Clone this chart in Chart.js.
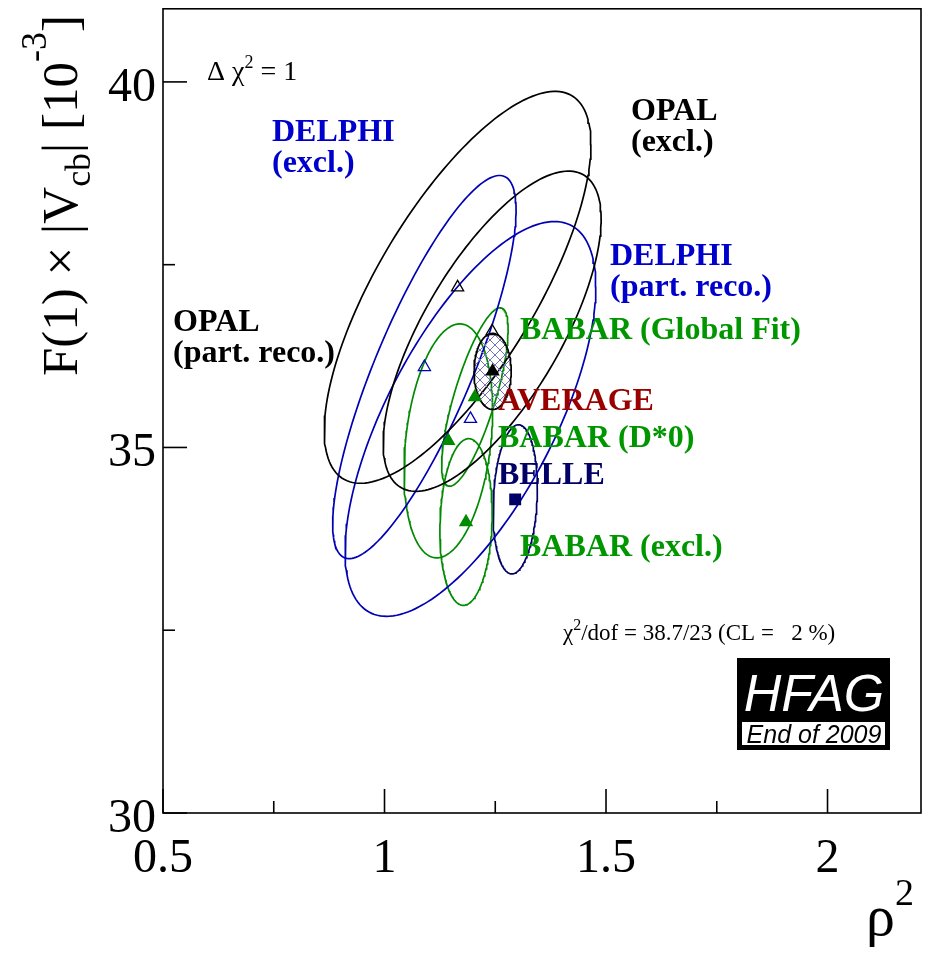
<!DOCTYPE html>
<html>
<head>
<meta charset="utf-8">
<script src="https://cdn.jsdelivr.net/npm/chart.js@4.4.1/dist/chart.umd.min.js"></script>
<style>
html, body { margin: 0; padding: 0; background: #fff; }
#wrap { width: 937px; height: 955px; position: relative; }
</style>
</head>
<body>
<div id="wrap"><canvas id="vcbChart"></canvas></div>
<script>
// Measurements, Delta chi2 = 1 contours in the (rho^2, F(1)|Vcb|) plane
const names = ['OPAL (excl.)', 'OPAL (part. reco.)', 'DELPHI (excl.)', 'DELPHI (part. reco.)',
               'BABAR (Global Fit)', 'BABAR (D*0)', 'BABAR (excl.)', 'BELLE', 'AVERAGE'];
const rho2     = [1.165, 1.243, 1.090, 1.194, 1.204, 1.144, 1.184, 1.295, 1.244];
const f1vcb    = [37.19, 36.59, 36.10, 35.39, 35.69, 35.09, 33.98, 34.29, 36.04];
const errRho2  = [0.301, 0.246, 0.207, 0.283, 0.075, 0.100, 0.059, 0.050, 0.042];
const errF1vcb = [2.68, 2.19, 2.62, 2.70, 1.22, 1.60, 1.14, 1.02, 0.52];
const corr     = [0.73, 0.70, 0.82, 0.67, 0.76, 0.26, 0.10, 0.15, 0.0];

// Axis ticks
const xTicks = [0.5, 0.75, 1, 1.25, 1.5, 1.75, 2];
const xTickLabels = ['0.5', '', '1', '', '1.5', '', '2'];
const yTicks = [30, 32.5, 35, 37.5, 40];
const yTickLabels = ['30', '', '35', '', '40'];

// Styles (one per measurement)
const lineColors = ['#000000', '#000000', '#0000b4', '#0000b4', '#008a00', '#008a00', '#008a00', '#000066', '#000000'];
const markerStyle = ['triangle', 'triangle', 'triangle', 'triangle', 'triangle', 'triangle', 'triangle', 'rect', 'triangle'];
const markerFilled = [false, false, false, false, true, true, true, true, true];

// Delta chi2 = 1 contour from central values, errors and correlation
function contour(i) {
    const pts = [];
    const n = 180;
    const r = corr[i];
    for (let k = 0; k <= n; k++) {
        const t = 2 * Math.PI * k / n;
        pts.push({
            x: rho2[i] + errRho2[i] * Math.cos(t),
            y: f1vcb[i] + errF1vcb[i] * (r * Math.cos(t) + Math.sqrt(1 - r * r) * Math.sin(t))
        });
    }
    return pts;
}

function hatchPattern() {
    const c = document.createElement('canvas');
    c.width = 10; c.height = 10;
    const g = c.getContext('2d');
    g.strokeStyle = '#7474b0';
    g.lineWidth = 1;
    g.beginPath();
    g.moveTo(0, 0); g.lineTo(10, 10);
    g.moveTo(10, 0); g.lineTo(0, 10);
    g.stroke();
    return g.createPattern(c, 'repeat');
}

const datasets = [];
names.forEach((name, i) => {
    const isAvg = name === 'AVERAGE';
    datasets.push({
        label: name,
        data: contour(i),
        showLine: true,
        borderColor: lineColors[i],
        borderWidth: 1.7,
        pointRadius: 0,
        tension: 0,
        fill: isAvg ? 'shape' : false,
        backgroundColor: isAvg ? hatchPattern() : 'transparent',
        order: isAvg ? 0 : 1
    });
});
names.forEach((name, i) => {
    datasets.push({
        label: name + ' central value',
        data: [{ x: rho2[i], y: f1vcb[i] }],
        showLine: false,
        pointStyle: markerStyle[i],
        pointRadius: markerStyle[i] === 'rect' ? 7.5 : 7,
        pointBorderWidth: 1.3,
        pointBorderColor: lineColors[i],
        pointBackgroundColor: markerFilled[i] ? lineColors[i] : 'rgba(255,255,255,0)',
        order: -1
    });
});

// Text labels (pixel positions: left, baseline)
const textLabels = [
    { lines: ['DELPHI', '(excl.)'], x: 272, y: 141, color: '#0000cc' },
    { lines: ['OPAL', '(excl.)'], x: 631, y: 120, color: '#000000' },
    { lines: ['DELPHI', '(part. reco.)'], x: 610, y: 265, color: '#0000cc' },
    { lines: ['OPAL', '(part. reco.)'], x: 173, y: 331, color: '#000000' },
    { lines: ['BABAR (Global Fit)'], x: 520, y: 339, color: '#009600' },
    { lines: ['AVERAGE'], x: 498, y: 410, color: '#990000' },
    { lines: ['BABAR (D*0)'], x: 498, y: 447, color: '#009600' },
    { lines: ['BELLE'], x: 498, y: 484, color: '#000066' },
    { lines: ['BABAR (excl.)'], x: 520, y: 556, color: '#009600' }
];

const serif = '"Liberation Serif", "Times New Roman", serif';
const sans = '"Liberation Sans", Arial, sans-serif';

// draw text pieces one after another: [text, size, raise]
function drawRich(ctx, parts, x, y, weight) {
    let cx = x;
    parts.forEach(([txt, size, raise]) => {
        ctx.font = (weight || '') + ' ' + size + 'px ' + serif;
        ctx.fillText(txt, cx, y - (raise || 0));
        cx += ctx.measureText(txt).width;
    });
}

const decorPlugin = {
    id: 'decor',
    afterDatasetsDraw(chart) {
        const ctx = chart.ctx;
        const a = chart.chartArea;
        const xs = chart.scales.x, ys = chart.scales.y;
        ctx.save();

        // frame
        ctx.strokeStyle = '#000';
        ctx.lineWidth = 1.6;
        ctx.strokeRect(a.left, a.top, a.right - a.left, a.bottom - a.top);

        // ticks (inside) and labels
        ctx.fillStyle = '#000';
        ctx.font = '48px ' + serif;
        ctx.textAlign = 'center';
        ctx.textBaseline = 'alphabetic';
        xTicks.forEach((v, k) => {
            const px = xs.getPixelForValue(v);
            const len = xTickLabels[k] ? 24 : 12;
            ctx.beginPath();
            ctx.moveTo(px, a.bottom);
            ctx.lineTo(px, a.bottom - len);
            ctx.stroke();
            if (xTickLabels[k]) ctx.fillText(xTickLabels[k], px, a.bottom + 59);
        });
        ctx.textAlign = 'right';
        yTicks.forEach((v, k) => {
            const py = ys.getPixelForValue(v);
            const len = yTickLabels[k] ? 24 : 12;
            ctx.beginPath();
            ctx.moveTo(a.left, py);
            ctx.lineTo(a.left + len, py);
            ctx.stroke();
            if (yTickLabels[k]) ctx.fillText(yTickLabels[k], a.left - 7, py + 19);
        });

        // axis titles
        ctx.textAlign = 'left';
        ctx.save();
        ctx.translate(77, 376);
        ctx.rotate(-Math.PI / 2);
        drawRich(ctx, [['F(1) ', 51], ['\u00d7', 51], [' |V', 51], ['cb', 36, -13], ['| [10', 51], ['-3', 36, 31], [']', 51]], 0, 0);
        ctx.restore();
        drawRich(ctx, [['\u03c1', 58], ['2', 38, 30]], 866, 935);

        // measurement labels
        ctx.font = 'bold 32px ' + serif;
        textLabels.forEach(l => {
            ctx.fillStyle = l.color;
            l.lines.forEach((s, k) => ctx.fillText(s, l.x, l.y + k * 31));
        });

        // annotations
        ctx.fillStyle = '#000';
        drawRich(ctx, [['\u0394 \u03c7', 28], ['2', 18, 12], [' = 1', 28]], 207, 80);
        drawRich(ctx, [['\u03c7', 23], ['2', 16, 10], ['/dof = 38.7/23 (CL =   2 %)', 23]], 563, 640);

        // HFAG logo
        ctx.fillStyle = '#000';
        ctx.fillRect(737, 658, 153, 92);
        ctx.fillStyle = '#fff';
        ctx.fillRect(741, 721, 145, 25);
        ctx.strokeStyle = '#000';
        ctx.lineWidth = 1;
        ctx.strokeRect(741.5, 721.5, 144, 24);
        ctx.textAlign = 'center';
        ctx.font = 'italic 52px ' + sans;
        ctx.fillText('HFAG', 814, 711);
        ctx.fillStyle = '#000';
        ctx.font = 'italic 25px ' + sans;
        ctx.fillText('End of 2009', 814, 743);

        ctx.restore();
    }
};

const chart = new Chart(document.getElementById('vcbChart'), {
    type: 'scatter',
    data: { datasets: datasets },
    options: {
        responsive: true,
        maintainAspectRatio: false,
        animation: false,
        layout: { padding: { left: 163, right: 16, top: 5, bottom: 142 } },
        plugins: {
            legend: { display: false },
            tooltip: { enabled: false }
        },
        scales: {
            x: { type: 'linear', min: 0.5, max: 2.211, display: false },
            y: { type: 'linear', min: 30, max: 41.0, display: false }
        }
    },
    plugins: [decorPlugin]
});
</script>
</body>
</html>
